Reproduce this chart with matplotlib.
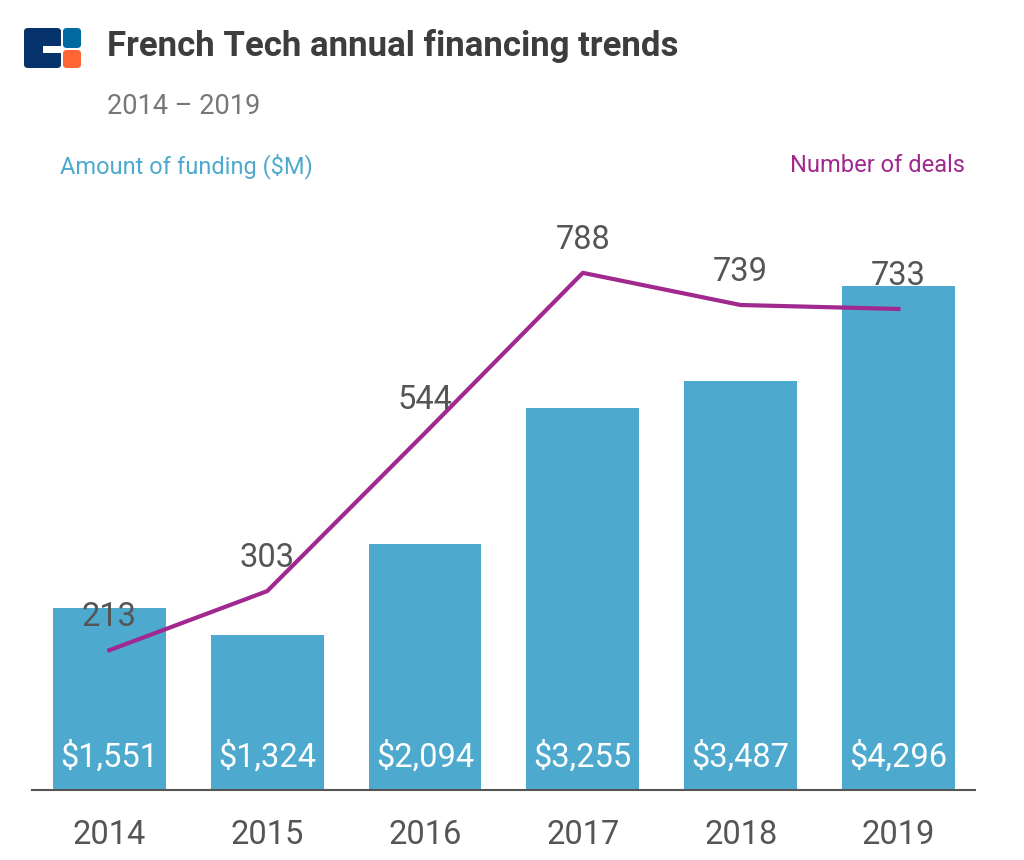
import matplotlib.pyplot as plt
from matplotlib.patches import Rectangle, FancyBboxPatch

years = ['2014', '2015', '2016', '2017', '2018', '2019']
funding = [1551, 1324, 2094, 3255, 3487, 4296]
deals = [213, 303, 544, 788, 739, 733]

bar_color = '#4daace'
line_color = '#a0288e'
text_gray = '#555555'

plt.rcParams['font.family'] = ['Roboto', 'DejaVu Sans']

fig = plt.figure(figsize=(10.24, 8.6), dpi=100)
W, H = 1024, 860
ax = fig.add_axes([32 / W, 70 / H, (975 - 32) / W, 590 / H])

x = range(len(years))
ax.bar(x, funding, width=0.715, color=bar_color, zorder=1)
ax.set_ylim(0, 5030)
ax.set_xlim(-0.49, 5.485)
for i, v in enumerate(funding):
    ax.text(i, 140, f'${v:,}', ha='center', va='bottom', color='white', fontsize=23.5)

ax2 = ax.twinx()
ax2.plot(x, deals, color=line_color, lw=3, zorder=3)
ax2.set_ylim(0, 899)
for i, v in enumerate(deals):
    ax2.annotate(str(v), (i, v), xytext=(0, 24), textcoords='offset points',
                 ha='center', va='center', color=text_gray, fontsize=23.5)

for a in (ax, ax2):
    for s in ['top', 'left', 'right']:
        a.spines[s].set_visible(False)
    a.set_yticks([])
ax2.spines['bottom'].set_visible(False)
ax.spines['bottom'].set_color('#555555')
ax.spines['bottom'].set_linewidth(1.5)
ax.set_xticks(list(x))
ax.set_xticklabels(years, fontsize=23.5, color=text_gray)
ax.tick_params(axis='x', length=0, pad=21)

# logo
def px(x0, y0, w, h):
    return (x0 / W, 1 - (y0 + h) / H), w / W, h / H

for (x0, y0, w, h, c) in [(24, 28, 37, 40, '#06336b'), (63, 28, 18, 20, '#006aa1'), (63, 50, 18, 18, '#ff6633')]:
    xy, ww, hh = px(x0, y0, w, h)
    fig.add_artist(FancyBboxPatch(xy, ww, hh, boxstyle='round,pad=0,rounding_size=0.004',
                                  transform=fig.transFigure, color=c, lw=0))
xy, ww, hh = px(43, 46, 19, 7)
fig.add_artist(Rectangle(xy, ww, hh, transform=fig.transFigure, color='white', lw=0))

fig.text(107 / W, 1 - 46 / H, 'French Tech annual financing trends', fontsize=25, fontweight='bold',
         color='#3d3d3d', va='center', ha='left')
fig.text(107 / W, 1 - 106 / H, '2014 – 2019', fontsize=19.5, color='#777777', va='center', ha='left')
fig.text(60 / W, 1 - 166 / H, 'Amount of funding ($M)', fontsize=17, color=bar_color, va='center', ha='left')
fig.text(965 / W, 1 - 166 / H, 'Number of deals', fontsize=17, color=line_color, va='center', ha='right')

fig.savefig('out.png', dpi=100)
